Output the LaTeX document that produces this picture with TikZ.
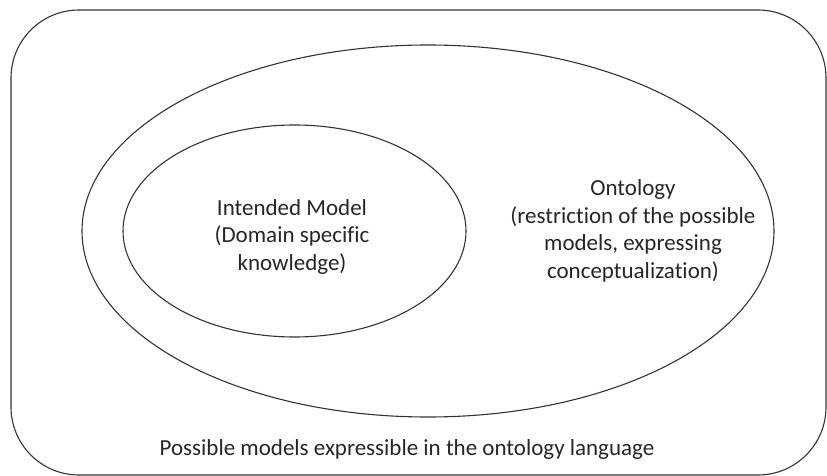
\documentclass[tikz,border=0pt]{standalone}
\usepackage{fontspec}
\setmainfont[Ligatures=NoCommon]{Carlito}
\usetikzlibrary{shapes.geometric}
\begin{document}
\begin{tikzpicture}[x=1pt,y=-1pt,
  outline/.style={draw=black!80, line width=1.1pt, inner sep=0pt, outer sep=0pt},
  label/.style={text=black!85, font=\fontsize{23}{27.5}\selectfont, align=center, inner sep=0pt}]
  \useasboundingbox (0,0) rectangle (827,476);
  % language frame
  \node[outline, rectangle, rounded corners=68pt, minimum width=815pt, minimum height=465pt] (frame) at (418.5,242.5) {};
  % ontology and intended model
  \node[outline, ellipse, minimum width=692pt, minimum height=372pt] (onto) at (428,231) {};
  \node[outline, ellipse, minimum width=343pt, minimum height=212pt] (intended) at (294.5,231) {};
  % labels (base = baseline of the last line)
  \node[label, anchor=base] (intlbl) at (292,270) {Intended Model\\(Domain specific\\knowledge)};
  \node[label, anchor=base] (ontlbl) at (633,278) {Ontology\\(restriction of the possible\\models, expressing\\conceptualization)};
  \node[label, anchor=base] (framelbl) at (407,455) {Possible models expressible in the ontology language};
\end{tikzpicture}
\end{document}
